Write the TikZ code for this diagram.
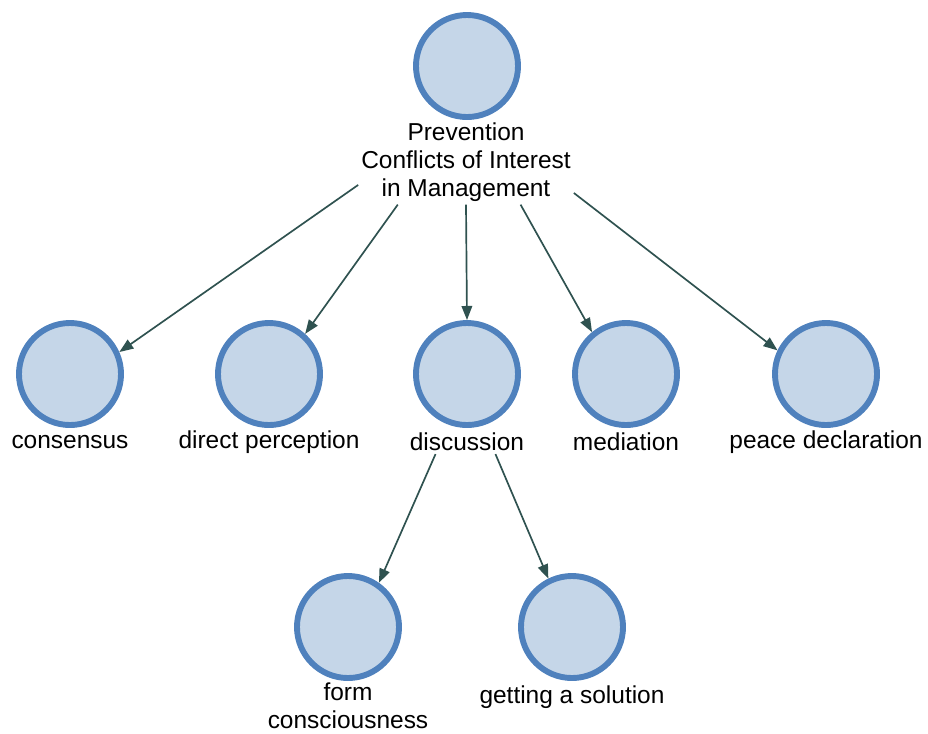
\documentclass[tikz,border=0pt]{standalone}
\usepackage{fontspec}
\setmainfont{Liberation Sans}
\usetikzlibrary{arrows.meta,positioning}
\definecolor{cmFill}{RGB}{197,214,232}
\definecolor{cmRing}{RGB}{79,129,189}
\definecolor{cmArrow}{RGB}{47,82,80}

\begin{document}
\begin{tikzpicture}[
  x=0.025cm, y=0.025cm,
  every node/.style={font=\fontsize{17.4}{20}\selectfont},
  concept/.style={circle,draw=cmRing,fill=cmFill,line width=4.2pt,
                  minimum size=2.55cm,inner sep=0pt},
  caption/.style={align=center,inner sep=2pt},
  link/.style={draw=cmArrow,line width=1.2pt,
               -{Triangle[length=10pt,width=7.5pt]}}
]
\useasboundingbox (0,0) rectangle (928,-733);
% root concept
\node[concept] (prev) at (467,-66) {};
\node[caption] (prevlbl) at (466,-162)
   {Prevention\\Conflicts of Interest\\in Management};
% second level
\node[concept] (cons) at (70,-374)  {};
\node[concept] (dirp) at (269,-374) {};
\node[concept] (disc) at (467,-374) {};
\node[concept] (medi) at (626,-374) {};
\node[concept] (peac) at (826,-374) {};
\node[caption] (conslbl) at (70,-442)  {consensus};
\node[caption] (dirplbl) at (269,-442) {direct perception};
\node[caption] (disclbl) at (467,-442) {discussion};
\node[caption] (medilbl) at (626,-442) {mediation};
\node[caption] (peaclbl) at (826,-442) {peace declaration};
% third level
\node[concept] (form) at (348,-627) {};
\node[concept] (gets) at (572,-627) {};
\node[caption,inner sep=0pt] (formlbl) at (348,-706) {form\\consciousness};
\node[caption] (getslbl) at (572,-697) {getting a solution};
% links
\draw[link] (prevlbl.192) -- (cons.24);
\draw[link] (prevlbl.212) -- (dirp.48);
\draw[link] (prevlbl.270) -- (disc.90);
\draw[link] (prevlbl.322) -- (medi.129);
\draw[link] (prevlbl.344) -- (peac.154);
\draw[link] (disclbl.201) -- (form.55);
\draw[link] (disclbl.337) -- (gets.116);
\end{tikzpicture}
\end{document}
